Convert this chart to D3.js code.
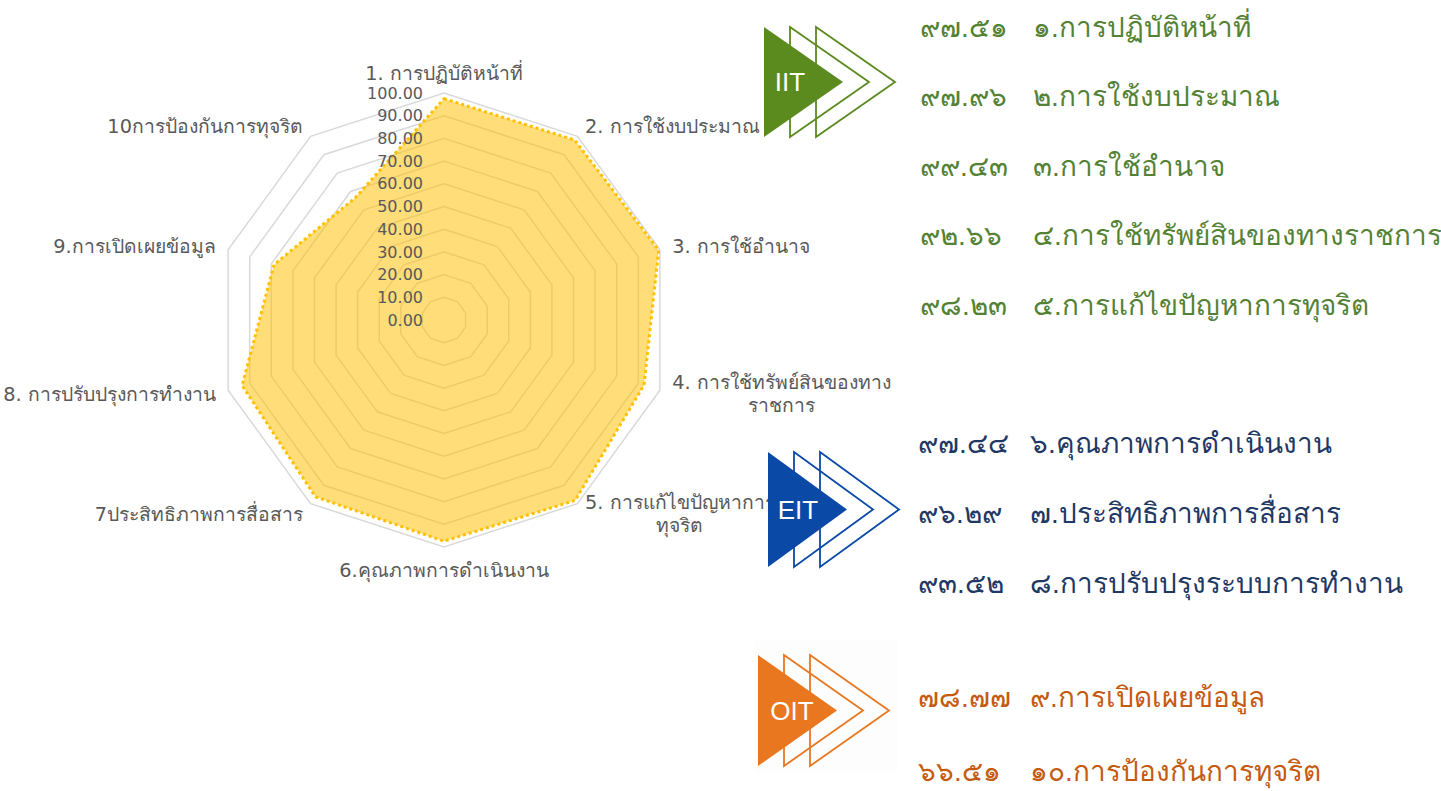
<!DOCTYPE html>
<html><head><meta charset="utf-8">
<script src="https://cdn.jsdelivr.net/npm/d3@7/dist/d3.min.js"></script>
<style>body{margin:0;background:#fff} svg{display:block}</style>
</head><body><svg id="c" width="1441" height="791"></svg>
<script>
// ---- data ----
const axisLabels = [
  ["1. การปฏิบัติหน้าที่"],
  ["2. การใช้งบประมาณ"],
  ["3. การใช้อำนาจ"],
  ["4. การใช้ทรัพย์สินของทาง", "ราชการ"],
  ["5. การแก้ไขปัญหาการ", "ทุจริต"],
  ["6.คุณภาพการดำเนินงาน"],
  ["7ประสิทธิภาพการสื่อสาร"],
  ["8. การปรับปรุงการทำงาน"],
  ["9.การเปิดเผยข้อมูล"],
  ["10การป้องกันการทุจริต"]
];
const scores = [97.51, 97.96, 99.43, 92.66, 98.23, 97.44, 96.29, 93.52, 78.77, 66.51];
const tickValues = [0, 10, 20, 30, 40, 50, 60, 70, 80, 90, 100];
const listLabels = [
  "๑.การปฏิบัติหน้าที่",
  "๒.การใช้งบประมาณ",
  "๓.การใช้อำนาจ",
  "๔.การใช้ทรัพย์สินของทางราชการ",
  "๕.การแก้ไขปัญหาการทุจริต",
  "๖.คุณภาพการดำเนินงาน",
  "๗.ประสิทธิภาพการสื่อสาร",
  "๘.การปรับปรุงระบบการทำงาน",
  "๙.การเปิดเผยข้อมูล",
  "๑๐.การป้องกันการทุจริต"
];
const groupNames = ["IIT", "EIT", "OIT"];
const groupOfItem = ["IIT","IIT","IIT","IIT","IIT","EIT","EIT","EIT","OIT","OIT"];

// ---- styles / layout ----
const groupStyle = {
  IIT: {icon: "#5B8A1F", text: "#548235", left: 764, top: 27, bottom: 137, textDx: 26, rowY: 27, step: 69.5, vx: 920, lx: 1033},
  EIT: {icon: "#0A4AA6", text: "#1F3864", left: 768, top: 452, bottom: 567, textDx: 30, rowY: 443, step: 70, vx: 918, lx: 1030},
  OIT: {icon: "#E8771F", text: "#C55A11", left: 758, top: 655, bottom: 766, textDx: 34, rowY: 697, step: 74, vx: 918, lx: 1030}
};
const thaiDigits = s => s.replace(/[0-9]/g, d => "๐๑๒๓๔๕๖๗๘๙"[+d]);
const FAM = "'DejaVu Sans', sans-serif";

const svg = d3.select("#c");

function fitSize(text, family, targetW) {
  const t = svg.append("text").style("font-family", family).style("font-size", "20px").text(text);
  const w = t.node().getComputedTextLength();
  t.remove();
  return 20 * targetW / w;
}
const labelSize = fitSize(axisLabels[0][0], FAM, 157);
const tickSize = Math.min(labelSize * 1.1, fitSize("100.00", FAM, 56));
const listSize = fitSize(listLabels[0], "sans-serif", 217);

const cx = 444, cy = 320, R = 227;
const r = d3.scaleLinear().domain([0, 100]).range([0, R]);
const ang = d3.scaleLinear().domain([0, scores.length]).range([0, 2 * Math.PI]);
const idx = d3.range(scores.length);

const g = svg.append("g").attr("transform", `translate(${cx},${cy})`);

// grid rings
const ring = d3.lineRadial().angle(i => ang(i)).curve(d3.curveLinearClosed);
g.append("g").selectAll("path").data(tickValues.filter(v => v > 0)).join("path")
  .attr("d", v => ring.radius(() => r(v))(idx))
  .attr("fill", "none").attr("stroke", "#d9d9d9").attr("stroke-width", 1.5);

// series
const area = d3.lineRadial().angle((d, i) => ang(i)).radius(d => r(d)).curve(d3.curveLinearClosed);
g.append("path").attr("d", area(scores))
  .attr("fill", "rgba(255,190,0,0.53)").attr("stroke", "none");
g.append("path").attr("d", area(scores))
  .attr("fill", "none").attr("stroke", "#FFC000").attr("stroke-width", 3)
  .attr("stroke-dasharray", "3,3").attr("stroke-linejoin", "miter");

// tick labels
g.append("g").selectAll("text").data(tickValues).join("text")
  .attr("x", -21).attr("y", v => -r(v)).attr("dy", "0.35em")
  .attr("text-anchor", "end").attr("fill", "#595959")
  .style("font-family", FAM).style("font-size", tickSize + "px")
  .text(v => d3.format(".2f")(v));

// axis labels
const lab = g.append("g").style("font-family", FAM).style("font-size", labelSize + "px").attr("fill", "#595959");
axisLabels.forEach((lines, i) => {
  const a = ang(i);
  const s = Math.sin(a), c = Math.cos(a);
  const rr = R + 13;
  const px = rr * s, py = -rr * c;
  let anchor = Math.abs(s) < 1e-6 ? "middle" : (s > 0 ? "start" : "end");
  let yc = py;
  if (Math.abs(s) < 1e-6) yc = py + (c > 0 ? -7 : 10);
  const lh = 23;
  const t = lab.append("text").attr("text-anchor", anchor);
  const y0 = yc - (lines.length - 1) * lh / 2;
  const tspans = lines.map((ln, k) => t.append("tspan").attr("x", px).attr("y", y0 + k * lh).attr("dy", "0.35em").text(ln));
  if (lines.length > 1) {
    const w0 = tspans[0].node().getComputedTextLength();
    const mid = anchor === "start" ? px + w0 / 2 : anchor === "end" ? px - w0 / 2 : px;
    tspans.forEach(ts => ts.attr("x", mid).attr("text-anchor", "middle"));
  }
});

// ---- right side groups ----
const right = svg.append("g");
right.append("rect").attr("x", 755).attr("y", 640).attr("width", 142).attr("height", 133).attr("fill", "#fdfdfd");
groupNames.forEach(name => {
  const st = groupStyle[name];
  const gg = right.append("g");
  const w = 79, mid = (st.top + st.bottom) / 2;
  const tri = (x0) => `M${x0},${st.top}L${x0 + w},${mid}L${x0},${st.bottom}Z`;
  gg.append("path").attr("d", tri(st.left + 52)).attr("fill", "none").attr("stroke", st.icon).attr("stroke-width", 1.8);
  gg.append("path").attr("d", tri(st.left + 26)).attr("fill", "none").attr("stroke", st.icon).attr("stroke-width", 1.8);
  gg.append("path").attr("d", tri(st.left)).attr("fill", st.icon);
  gg.append("text").attr("x", st.left + st.textDx).attr("y", mid).attr("dy", "0.36em")
    .attr("text-anchor", "middle").attr("fill", "#fff")
    .style("font", "26px 'Liberation Sans', Arial, sans-serif").text(name);

  const items = idx.filter(i => groupOfItem[i] === name);
  items.forEach((i, k) => {
    const y = st.rowY + k * st.step;
    gg.append("text").attr("x", st.vx).attr("y", y).attr("dy", "0.35em")
      .attr("fill", st.text).style("font-family", "sans-serif").style("font-size", listSize + "px")
      .style("font-weight", 500)
      .text(thaiDigits(d3.format(".2f")(scores[i])));
    gg.append("text").attr("x", st.lx).attr("y", y).attr("dy", "0.35em")
      .attr("fill", st.text).style("font-family", "sans-serif").style("font-size", listSize + "px")
      .style("font-weight", 500)
      .text(listLabels[i]);
  });
});
</script></body></html>
